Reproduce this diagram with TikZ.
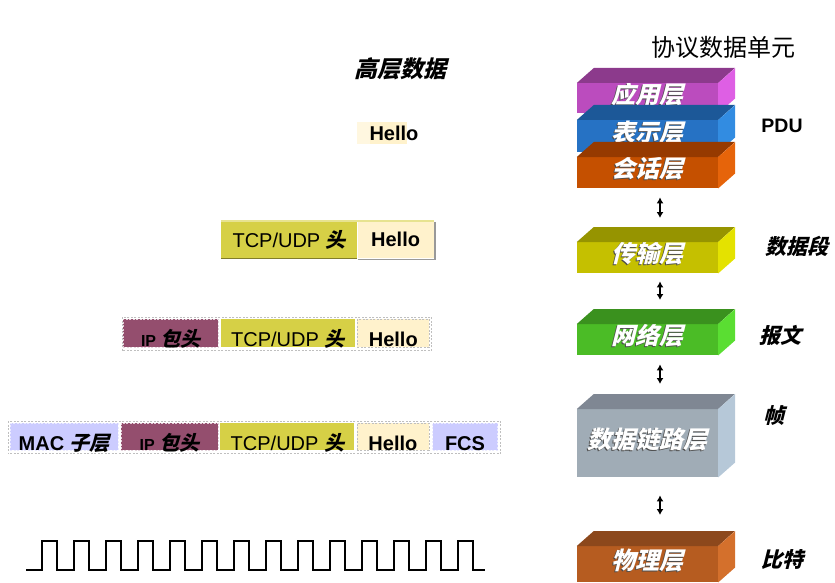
\documentclass[tikz,border=0pt]{standalone}
\usepackage{fontspec}
\setmainfont{Liberation Sans}
\newfontfamily\cjk{Noto Sans CJK SC}
\newfontfamily\cjkit{Noto Sans CJK SC}[FakeSlant=0.25]
\usetikzlibrary{arrows.meta,positioning}

\definecolor{appfront}{RGB}{187,76,190}
\definecolor{apptop}{RGB}{140,58,140}
\definecolor{appside}{RGB}{222,95,228}
\definecolor{presfront}{RGB}{38,114,196}
\definecolor{prestop}{RGB}{28,88,152}
\definecolor{presside}{RGB}{50,140,225}
\definecolor{sessfront}{RGB}{197,80,0}
\definecolor{sesstop}{RGB}{150,58,0}
\definecolor{sessside}{RGB}{230,100,10}
\definecolor{transfront}{RGB}{197,192,0}
\definecolor{transtop}{RGB}{150,148,0}
\definecolor{transside}{RGB}{228,226,0}
\definecolor{netfront}{RGB}{75,188,38}
\definecolor{nettop}{RGB}{58,145,30}
\definecolor{netside}{RGB}{90,222,50}
\definecolor{linkfront}{RGB}{160,172,182}
\definecolor{linktop}{RGB}{127,135,147}
\definecolor{linkside}{RGB}{182,200,216}
\definecolor{physfront}{RGB}{182,92,32}
\definecolor{phystop}{RGB}{140,72,28}
\definecolor{physside}{RGB}{212,112,44}
\definecolor{cream}{RGB}{255,242,204}
\definecolor{tcpc}{RGB}{214,208,70}
\definecolor{ipc}{RGB}{148,78,110}
\definecolor{macc}{RGB}{204,204,255}

\newcommand\shtext[1]{\makebox[0pt][l]{\hspace{-1.2pt}\raisebox{-1.2pt}{\color{black!70}#1}}#1}
\newcommand\cjkbi{\cjkit\bfseries}

\tikzset{
  layer/.style={minimum width=141pt, inner sep=0pt, text=white, text height=14pt, text depth=4pt,
    font=\cjkit\bfseries\fontsize{24}{26}\selectfont},
  cell/.style={inner sep=0pt, font=\fontsize{20}{23}\selectfont},
  low/.style={inner ysep=0pt, text height=27pt, text depth=0pt},
  sidecn/.style={font=\cjkit\bfseries\fontsize{21}{24}\selectfont},
  cellline/.style={dashed, line width=0.6pt, dash pattern=on 2pt off 1.5pt},
  frame/.style={draw=black!25, line width=0.7pt, dash pattern=on 2pt off 1.5pt},
}

\newcommand\osilayer[7]{%
  \node[layer, fill=#4, minimum height=#3pt, anchor=north] (#1) at (647.5,#2) {\shtext{#7}};
  \fill[#5] (#1.north west) -- ++(17,-15) -- ++(141,0) -- (#1.north east) -- cycle;
  \fill[#6] (#1.north east) -- ++(17,-15) -- ([shift={(17,-15)}]#1.south east) -- (#1.south east) -- cycle;
}

\begin{document}
\begin{tikzpicture}[x=1pt,y=-1pt,>={Latex[length=6pt,width=7pt]}]
  \useasboundingbox (0,0) rectangle (835,583);

  \node[font=\cjk\fontsize{24}{26}\selectfont] (pdutitle) at (723,47) {协议数据单元};
  \node[font=\cjkit\bfseries\fontsize{23}{25}\selectfont] (upper) at (400,69) {高层数据};

  \osilayer{app}{83}{30}{appfront}{apptop}{appside}{应用层}
  \osilayer{pres}{120}{32}{presfront}{prestop}{presside}{表示层}
  \osilayer{sess}{157}{31}{sessfront}{sesstop}{sessside}{会话层}
  \osilayer{trans}{242}{31}{transfront}{transtop}{transside}{传输层}
  \osilayer{net}{324}{31}{netfront}{nettop}{netside}{网络层}
  \osilayer{link}{409}{68}{linkfront}{linktop}{linkside}{数据链路层}
  \osilayer{phys}{546}{36}{physfront}{phystop}{physside}{物理层}

  \draw[<->, line width=1.2pt, shorten <=9pt, shorten >=24pt] ([xshift=12.5pt]sess.south) -- ([xshift=12.5pt]trans.north);
  \draw[<->, line width=1.2pt, shorten <=8pt, shorten >=24pt] ([xshift=12.5pt]trans.south) -- ([xshift=12.5pt]net.north);
  \draw[<->, line width=1.2pt, shorten <=9pt, shorten >=25pt] ([xshift=12.5pt]net.south) -- ([xshift=12.5pt]link.north);
  \draw[<->, line width=1.2pt, shorten <=18pt, shorten >=31pt] ([xshift=12.5pt]link.south) -- ([xshift=12.5pt]phys.north);

  \node[font=\bfseries\fontsize{19.5}{22}\selectfont] (pdu) at (782,126) {PDU};
  \node[sidecn] (seg) at (797,246) {数据段};
  \node[sidecn] (pkt) at (780,335) {报文};
  \node[sidecn] (frm) at (774,416) {帧};
  \node[sidecn] (bits) at (782,560) {比特};

  \fill[cream!60] (357,122) rectangle (370,144);
  \fill[cream] (370,122) rectangle (407,144);
  \node[cell] (hello1) at (394,133) {\bfseries Hello};

  \node[cell, fill=tcpc, minimum width=136pt, minimum height=37pt, anchor=north west] (tcp2) at (221,221) {TCP/UDP {\cjkbi 头}};
  \node[cell, fill=cream, minimum width=76pt, minimum height=37pt, right=0pt of tcp2] (hello2) {\bfseries Hello};
  \draw[tcpc!60!white, line width=1.5pt] (tcp2.north west) -- (hello2.north east);
  \draw[tcpc!60!black, line width=1.2pt] (tcp2.south west) -- (tcp2.south east);
  \draw[black!40, line width=1.5pt] ([shift={(1,1)}]hello2.north east) -- ([shift={(1,1)}]hello2.south east) -- ([shift={(1,1)}]hello2.south west);

  \node[cell, low, fill=ipc, draw=white!75!ipc, cellline, minimum width=95pt, minimum height=28pt, anchor=north west] (ip3) at (123,319) {\bfseries\fontsize{16}{18}\selectfont IP \fontsize{20}{22}\selectfont\cjkbi 包头};
  \node[cell, low, fill=tcpc, minimum width=134pt, minimum height=28pt, right=2pt of ip3] (tcp3) {TCP/UDP {\cjkbi 头}};
  \node[cell, low, fill=cream, draw=black!25, cellline, minimum width=72pt, minimum height=28pt, right=2pt of tcp3] (hello3) {\bfseries Hello};
  \draw[frame] ([shift={(-1,-2)}]ip3.north west) rectangle ([shift={(2,3)}]hello3.south east);

  \node[cell, low, fill=macc, draw=white!60!macc, cellline, minimum width=108pt, minimum height=27pt, anchor=north west] (mac4) at (10,423) {\bfseries MAC {\cjkbi 子层}};
  \node[cell, low, fill=ipc, draw=white!75!ipc, cellline, minimum width=97pt, minimum height=27pt, right=2pt of mac4] (ip4) {\bfseries\fontsize{16}{18}\selectfont IP \fontsize{20}{22}\selectfont\cjkbi 包头};
  \node[cell, low, fill=tcpc, minimum width=134pt, minimum height=27pt, right=2pt of ip4] (tcp4) {TCP/UDP {\cjkbi 头}};
  \node[cell, low, fill=cream, draw=black!25, cellline, minimum width=72pt, minimum height=27pt, right=2pt of tcp4] (hello4) {\bfseries Hello};
  \node[cell, low, fill=macc, draw=white!60!macc, cellline, minimum width=65pt, minimum height=27pt, right=3pt of hello4] (fcs4) {\bfseries FCS};
  \draw[frame] ([shift={(-2,-2)}]mac4.north west) rectangle ([shift={(3,3)}]fcs4.south east);

  \draw[line width=2pt] (26,570) \foreach \k in {0,...,13} { -- ({42+32*\k},570) -- ({42+32*\k},541) -- ({57+32*\k},541) -- ({57+32*\k},570) } -- (485,570);
\end{tikzpicture}
\end{document}
